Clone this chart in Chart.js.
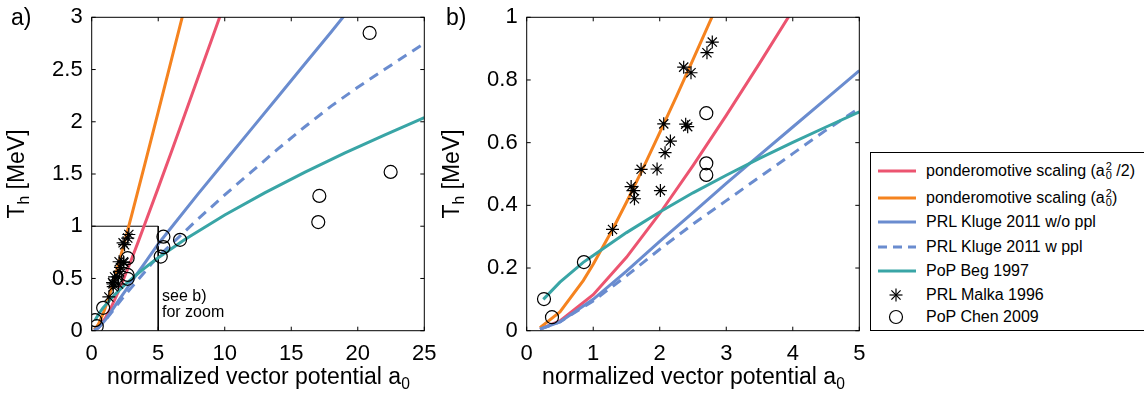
<!DOCTYPE html>
<html lang="en">
<head>
  <meta charset="UTF-8">
  <title>Hot electron temperature scaling</title>
  <style>
    body {
      margin: 0;
      width: 1144px;
      height: 394px;
      background: #fff;
      position: relative;
      overflow: hidden;
      font-family: "Liberation Sans", Arial, Helvetica, sans-serif;
      color: #000;
    }
    canvas { position: absolute; top: 0; }
    #chartA { left: 0; }
    #chartB { left: 440px; }
    .txt { position: absolute; white-space: nowrap; }
    .xtitle { font-size: 23px; line-height: 23px; text-align: center; }
    .ytitle { font-size: 23px; line-height: 23px; transform: translate(-50%, -50%) rotate(-90deg); }
    sub { font-size: 0.68em; vertical-align: -0.35em; }
    .panel { font-size: 23px; line-height: 23px; }
    .note { font-size: 16px; line-height: 16px; }
    #legend {
      position: absolute;
      left: 870px;
      top: 152px;
      width: 274px;
      height: 179px;
      box-sizing: border-box;
      border: 1px solid #000;
      border-right: none;
      background: #fff;
    }
    .row { position: absolute; left: 0; height: 20px; line-height: 20px; font-size: 16px; white-space: nowrap; }
    .row svg { position: absolute; left: 0; top: 0; }
    .row span.lab { position: absolute; left: 55px; top: 0; }
    .ss { display: inline-flex; flex-direction: column; font-size: 11px; line-height: 9px; vertical-align: 6px; margin-left: 1px; }
  </style>
</head>
<body>
  <canvas id="chartA" width="440" height="394"></canvas>
  <canvas id="chartB" width="440" height="394"></canvas>

  <div class="txt panel" style="left:11px; top:6px;">a)</div>
  <div class="txt panel" style="left:446px; top:6px;">b)</div>

  <div class="txt ytitle" style="left:20px; top:174px;">T<sub>h</sub> [MeV]</div>
  <div class="txt ytitle" style="left:455px; top:174px;">T<sub>h</sub> [MeV]</div>

  <div class="txt xtitle" style="left:92px; width:333px; top:365px;">normalized vector potential a<sub>0</sub></div>
  <div class="txt xtitle" style="left:527px; width:333px; top:365px;">normalized vector potential a<sub>0</sub></div>

  <div class="txt note" style="left:162px; top:288px;">see b)</div>
  <div class="txt note" style="left:162px; top:304px;">for zoom</div>

  <div id="legend">
    <div class="row" style="top:8px;">
      <svg width="50" height="20"><line x1="7" y1="10" x2="45" y2="10" stroke="#EC5470" stroke-width="3"/></svg>
      <span class="lab">ponderomotive scaling (a<span class="ss"><span>2</span><span>0</span></span> /2)</span>
    </div>
    <div class="row" style="top:35px;">
      <svg width="50" height="20"><line x1="7" y1="10" x2="45" y2="10" stroke="#F5831F" stroke-width="3"/></svg>
      <span class="lab">ponderomotive scaling (a<span class="ss"><span>2</span><span>0</span></span>)</span>
    </div>
    <div class="row" style="top:59px;">
      <svg width="50" height="20"><line x1="7" y1="10" x2="45" y2="10" stroke="#6A8CCF" stroke-width="3"/></svg>
      <span class="lab">PRL Kluge 2011 w/o ppl</span>
    </div>
    <div class="row" style="top:84px;">
      <svg width="50" height="20"><line x1="7" y1="10" x2="45" y2="10" stroke="#6A8CCF" stroke-width="3" stroke-dasharray="9 6"/></svg>
      <span class="lab">PRL Kluge 2011 w ppl</span>
    </div>
    <div class="row" style="top:108px;">
      <svg width="50" height="20"><line x1="7" y1="10" x2="45" y2="10" stroke="#39A5A6" stroke-width="3"/></svg>
      <span class="lab">PoP Beg 1997</span>
    </div>
    <div class="row" style="top:132px;">
      <svg width="50" height="20"><g stroke="#000" stroke-width="1.2">
        <line x1="25" y1="3.5" x2="25" y2="16.5"/><line x1="18.5" y1="10" x2="31.5" y2="10"/>
        <line x1="20.4" y1="5.4" x2="29.6" y2="14.6"/><line x1="20.4" y1="14.6" x2="29.6" y2="5.4"/></g></svg>
      <span class="lab">PRL Malka 1996</span>
    </div>
    <div class="row" style="top:154px;">
      <svg width="50" height="20"><circle cx="25" cy="10" r="6.5" fill="none" stroke="#000" stroke-width="1.2"/></svg>
      <span class="lab">PoP Chen 2009</span>
    </div>
  </div>

  <script src="https://cdn.jsdelivr.net/npm/chart.js"></script>
  <script>
    // ponderomotive scaling (a0^2/2)
    const pondHalfA0 = [0.2, 0.5, 1, 1.5, 2, 2.5, 3, 3.5, 4, 5, 6, 7, 8, 9, 9.7];
    const pondHalfTh = [0.005, 0.031, 0.115, 0.234, 0.374, 0.527, 0.687, 0.853, 1.023, 1.367, 1.716, 2.07, 2.425, 2.781, 3.03];
    // ponderomotive scaling (a0^2)
    const pondFullA0 = [0.2, 0.5, 0.85, 1, 1.3, 1.5, 1.75, 2, 2.25, 2.5, 2.8, 3, 4, 5, 6, 6.9];
    const pondFullTh = [0.01, 0.06, 0.16, 0.212, 0.327, 0.41, 0.519, 0.632, 0.747, 0.865, 1.008, 1.105, 1.596, 2.095, 2.597, 3.05];
    // Kluge 2011 without / with ppl
    const klugeA0 = [0.2, 0.5, 1, 1.5, 2, 2.5, 3, 3.5, 4, 4.5, 5, 6, 8, 10, 12, 14, 16, 18, 19.2];
    const klugeTh = [0.005, 0.028, 0.1, 0.19, 0.285, 0.377, 0.47, 0.56, 0.65, 0.74, 0.83, 0.99, 1.31, 1.62, 1.93, 2.24, 2.55, 2.86, 3.05];
    const klugePplA0 = [0.2, 0.5, 1, 1.5, 2, 2.5, 3, 3.5, 4, 4.5, 5, 6, 8, 10, 12, 14, 16, 18, 20, 22, 25];
    const klugePplTh = [0.005, 0.028, 0.095, 0.175, 0.26, 0.34, 0.415, 0.49, 0.565, 0.64, 0.71, 0.83, 1.07, 1.30, 1.52, 1.74, 1.95, 2.15, 2.33, 2.50, 2.75];
    // Beg 1997
    const begA0 = [0.25, 0.5, 0.85, 1, 1.5, 2, 2.5, 3, 3.5, 4, 4.5, 5, 7, 10, 13, 16, 19, 22, 25];
    const begTh = [0.1, 0.155, 0.218, 0.24, 0.313, 0.379, 0.44, 0.496, 0.55, 0.601, 0.65, 0.698, 0.873, 1.107, 1.319, 1.515, 1.70, 1.873, 2.04];
    // measurements
    const malkaA0 = [1.29, 1.57, 1.61, 1.62, 1.72, 1.96, 2.01, 2.06, 2.08, 2.16, 2.36, 2.47, 2.39, 2.42, 2.71, 2.79];
    const malkaTh = [0.323, 0.46, 0.447, 0.421, 0.515, 0.516, 0.447, 0.66, 0.568, 0.605, 0.841, 0.823, 0.659, 0.651, 0.887, 0.921];
    const chenA0 = [0.26, 0.38, 0.86, 2.7, 2.7, 2.7, 5.19, 5.39, 5.39, 6.64, 17.03, 17.11, 20.89, 22.47];
    const chenTh = [0.101, 0.043, 0.219, 0.694, 0.534, 0.497, 0.71, 0.80, 0.90, 0.87, 1.04, 1.29, 2.85, 1.52];
    // "see b)" zoom box
    const boxA0 = [0, 5, 5];
    const boxTh = [1, 1, 0];

    const FONT = '"Liberation Sans", Arial, Helvetica, sans-serif';
    const pts = (xs, ys) => xs.map((x, i) => ({ x: x, y: ys[i] }));
    const tickText = v => String(parseFloat(v.toFixed(2)));

    // box round the plot with inward ticks on all four sides
    const frameTicks = {
      id: 'frameTicks',
      afterDatasetsDraw(chart) {
        const ctx = chart.ctx;
        const ca = chart.chartArea;
        const xs = chart.scales.x, ys = chart.scales.y;
        ctx.save();
        ctx.strokeStyle = '#000';
        ctx.lineWidth = 1;
        ctx.strokeRect(ca.left, ca.top, ca.right - ca.left, ca.bottom - ca.top);
        ctx.beginPath();
        xs.ticks.forEach(t => {
          const px = xs.getPixelForValue(t.value);
          ctx.moveTo(px, ca.bottom); ctx.lineTo(px, ca.bottom - 4);
          ctx.moveTo(px, ca.top); ctx.lineTo(px, ca.top + 4);
        });
        ys.ticks.forEach(t => {
          const py = ys.getPixelForValue(t.value);
          ctx.moveTo(ca.left, py); ctx.lineTo(ca.left + 4, py);
          ctx.moveTo(ca.right, py); ctx.lineTo(ca.right - 4, py);
        });
        ctx.stroke();
        ctx.restore();
      }
    };

    function curve(xs, ys, color, order, dash) {
      return {
        type: 'line',
        data: pts(xs, ys),
        borderColor: color,
        borderWidth: 3,
        borderDash: dash || [],
        pointRadius: 0,
        fill: false,
        tension: 0,
        order: order
      };
    }

    function makeChart(id, xMax, xStep, yMax, yStep, yWidth, padRight, withBox) {
      const datasets = [
        curve(pondHalfA0, pondHalfTh, '#EC5470', 7),
        curve(pondFullA0, pondFullTh, '#F5831F', 6),
        curve(klugeA0, klugeTh, '#6A8CCF', 5),
        curve(klugePplA0, klugePplTh, '#6A8CCF', 4, [10, 7]),
        curve(begA0, begTh, '#39A5A6', 3),
        {
          data: pts(malkaA0, malkaTh),
          pointStyle: 'star',
          pointRadius: 6.5,
          borderColor: '#000',
          backgroundColor: '#000',
          borderWidth: 1.2,
          order: 2
        },
        {
          data: pts(chenA0, chenTh),
          pointStyle: 'circle',
          pointRadius: 6.5,
          borderColor: '#000',
          backgroundColor: 'rgba(0,0,0,0)',
          borderWidth: 1.2,
          order: 1
        }
      ];
      if (withBox) {
        datasets.push({
          type: 'line',
          data: pts(boxA0, boxTh),
          borderColor: '#000',
          borderWidth: 1,
          pointRadius: 0,
          fill: false,
          order: 8
        });
      }
      return new Chart(document.getElementById(id), {
        type: 'scatter',
        data: { datasets: datasets },
        options: {
          responsive: false,
          animation: false,
          devicePixelRatio: 1,
          layout: { padding: { left: 0, right: padRight, top: 17.3, bottom: 0 } },
          plugins: { legend: { display: false }, tooltip: { enabled: false } },
          scales: {
            x: {
              type: 'linear',
              min: 0, max: xMax,
              grid: { display: false, drawTicks: true, tickLength: 7 },
              border: { display: false },
              ticks: { stepSize: xStep, color: '#000', padding: 3, maxRotation: 0, callback: tickText, font: { family: FONT, size: 22 } },
              afterFit: s => { s.height = 63.3; }
            },
            y: {
              type: 'linear',
              min: 0, max: yMax,
              grid: { display: false, drawTicks: true, tickLength: 7 },
              border: { display: false },
              ticks: { stepSize: yStep, color: '#000', padding: 2, callback: tickText, font: { family: FONT, size: 22 } },
              afterFit: s => { s.width = yWidth; }
            }
          }
        },
        plugins: [frameTicks]
      });
    }

    makeChart('chartA', 25, 5, 3, 0.5, 91.7, 15.7, true);
    makeChart('chartB', 5, 1, 1, 0.2, 86.7, 20.7, false);
  </script>
</body>
</html>
